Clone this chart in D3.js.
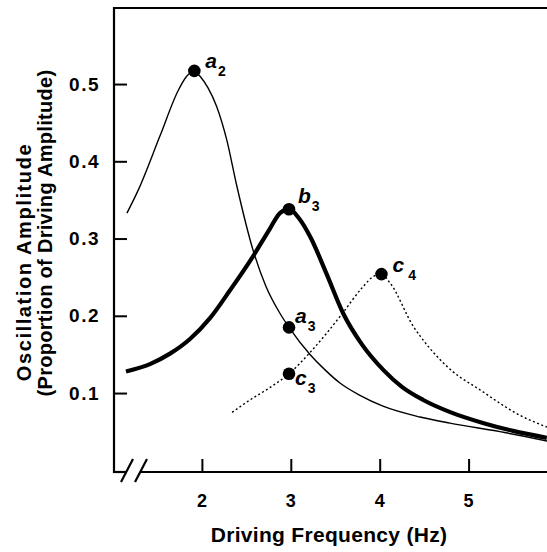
<!DOCTYPE html>
<html>
<head>
<meta charset="utf-8">
<script src="https://cdn.jsdelivr.net/npm/d3@7"></script>
<style>
  body { margin: 0; background: #fff; }
  svg text { font-family: "Liberation Sans", Arial, sans-serif; font-weight: bold; fill: #000; }
</style>
</head>
<body>
<div id="chart"></div>
<script>
(function() {
  var width = 547, height = 552;

  // curve a (thin solid)
  var freqA = [1.157, 1.285, 1.529, 1.735, 1.829, 1.915, 1.979, 2.069, 2.166, 2.279, 2.391, 2.578, 2.721, 2.879, 2.98, 3.216, 3.385, 3.553, 3.778, 4.037, 4.453, 4.79, 5.353, 5.882];
  var ampA  = [0.333, 0.363, 0.433, 0.492, 0.510, 0.517, 0.510, 0.495, 0.471, 0.428, 0.369, 0.284, 0.238, 0.203, 0.185, 0.150, 0.130, 0.113, 0.097, 0.083, 0.069, 0.061, 0.050, 0.038];

  // curve b (thick solid)
  var freqB = [1.146, 1.416, 1.641, 1.866, 2.091, 2.316, 2.575, 2.766, 2.878, 2.98, 3.1, 3.22, 3.4, 3.59, 3.8, 4.04, 4.25, 4.49, 4.8, 5.17, 5.5, 5.88];
  var ampB  = [0.128, 0.1375, 0.151, 0.170, 0.197, 0.233, 0.277, 0.313, 0.333, 0.338, 0.325, 0.302, 0.255, 0.203, 0.163, 0.130, 0.108, 0.091, 0.075, 0.061, 0.051, 0.042];

  // curve c (dotted)
  var freqC = [2.34, 2.54, 2.75, 2.98, 3.22, 3.4, 3.58, 3.8, 3.93, 4.02, 4.12, 4.38, 4.46, 4.8, 5.13, 5.58, 5.88];
  var ampC  = [0.075, 0.091, 0.106, 0.125, 0.153, 0.177, 0.203, 0.236, 0.251, 0.254, 0.242, 0.186, 0.173, 0.13, 0.104, 0.071, 0.056];

  // marked points
  var dotNames = ["a", "b", "a", "c", "c"];
  var dotSubs  = ["2", "3", "3", "3", "4"];
  var dotFreq  = [1.915, 2.98, 2.98, 2.98, 4.02];
  var dotAmp   = [0.517, 0.338, 0.185, 0.125, 0.254];

  var xTicks = [2, 3, 4, 5];
  var yTicks = [0.1, 0.2, 0.3, 0.4, 0.5];

  var svg = d3.select("#chart").append("svg")
    .attr("width", width)
    .attr("height", height);

  var x = d3.scaleLinear().domain([1, 5.9]).range([113, 548.6]);
  var y = d3.scaleLinear().domain([0, 0.6]).range([470.3, 6.8]);

  var axisX = 114, axisY = 472, topY = 8;

  // frame lines
  svg.append("line").attr("x1", axisX).attr("x2", axisX).attr("y1", topY - 1).attr("y2", axisY + 1)
    .attr("stroke", "#000").attr("stroke-width", 2.2);
  svg.append("line").attr("x1", axisX).attr("x2", width).attr("y1", topY).attr("y2", topY)
    .attr("stroke", "#000").attr("stroke-width", 2);
  svg.append("line").attr("x1", axisX - 1).attr("x2", 127).attr("y1", axisY).attr("y2", axisY)
    .attr("stroke", "#000").attr("stroke-width", 2.2);
  svg.append("line").attr("x1", 141).attr("x2", width).attr("y1", axisY).attr("y2", axisY)
    .attr("stroke", "#000").attr("stroke-width", 2.2);
  // axis break marks
  [[121, 133], [135, 147]].forEach(function(s) {
    svg.append("line").attr("x1", s[0]).attr("y1", 482).attr("x2", s[1]).attr("y2", 459)
      .attr("stroke", "#000").attr("stroke-width", 2.2);
  });

  // axes, ticks pointing inward
  var gx = svg.append("g")
    .attr("transform", "translate(0," + axisY + ")")
    .call(d3.axisBottom(x).tickValues(xTicks).tickSize(-13).tickPadding(22).tickFormat(d3.format("d")));
  var gy = svg.append("g")
    .attr("transform", "translate(" + axisX + ",0)")
    .call(d3.axisLeft(y).tickValues(yTicks).tickSize(-13).tickPadding(14).tickFormat(d3.format(".1f")));

  [gx, gy].forEach(function(g) {
    g.select(".domain").remove();
    g.selectAll(".tick line").attr("stroke", "#000").attr("stroke-width", 2);
  });
  gx.selectAll(".tick text").attr("font-size", 18).style("letter-spacing", "1px");
  gy.selectAll(".tick text").attr("font-size", 19).style("letter-spacing", "1.5px");

  // axis titles
  svg.append("text")
    .attr("x", 329).attr("y", 542)
    .attr("text-anchor", "middle")
    .attr("font-size", 21)
    .style("letter-spacing", "0.3px")
    .text("Driving Frequency (Hz)");

  svg.append("text")
    .attr("transform", "translate(31,262) rotate(-90)")
    .attr("text-anchor", "middle")
    .attr("font-size", 20)
    .style("letter-spacing", "1.6px")
    .text("Oscillation Amplitude");
  svg.append("text")
    .attr("transform", "translate(52,233) rotate(-90)")
    .attr("text-anchor", "middle")
    .attr("font-size", 20)
    .style("letter-spacing", "0.3px")
    .text("(Proportion of Driving Amplitude)");

  var line = d3.line()
    .x(function(d) { return x(d[0]); })
    .y(function(d) { return y(d[1]); })
    .curve(d3.curveMonotoneX);

  svg.append("path")
    .datum(d3.zip(freqA, ampA))
    .attr("d", line)
    .attr("fill", "none").attr("stroke", "#000").attr("stroke-width", 1.4);

  svg.append("path")
    .datum(d3.zip(freqB, ampB))
    .attr("d", line)
    .attr("fill", "none").attr("stroke", "#000").attr("stroke-width", 4.2)
    .attr("stroke-linejoin", "round");

  svg.append("path")
    .datum(d3.zip(freqC, ampC))
    .attr("d", line)
    .attr("fill", "none").attr("stroke", "#000").attr("stroke-width", 1.4)
    .attr("stroke-dasharray", "2,2.5");

  // dots and labels
  var labelOff = [[11, -3], [9, -6], [6, -4], [6, 11], [11, -2]];
  var dots = svg.selectAll(".pt")
    .data(d3.range(dotFreq.length))
    .enter().append("g").attr("class", "pt");

  dots.append("circle")
    .attr("cx", function(i) { return x(dotFreq[i]); })
    .attr("cy", function(i) { return y(dotAmp[i]); })
    .attr("r", 6.3)
    .attr("fill", "#000");

  var lbl = dots.append("text")
    .attr("x", function(i) { return x(dotFreq[i]) + labelOff[i][0]; })
    .attr("y", function(i) { return y(dotAmp[i]) + labelOff[i][1]; })
    .attr("font-size", 21)
    .attr("font-style", "italic");
  lbl.append("tspan").text(function(i) { return dotNames[i]; });
  lbl.append("tspan")
    .attr("dx", function(i) { return i === 4 ? 4 : 1; })
    .attr("dy", 8)
    .attr("font-size", 14)
    .attr("font-style", "normal")
    .text(function(i) { return dotSubs[i]; });
})();
</script>
</body>
</html>
